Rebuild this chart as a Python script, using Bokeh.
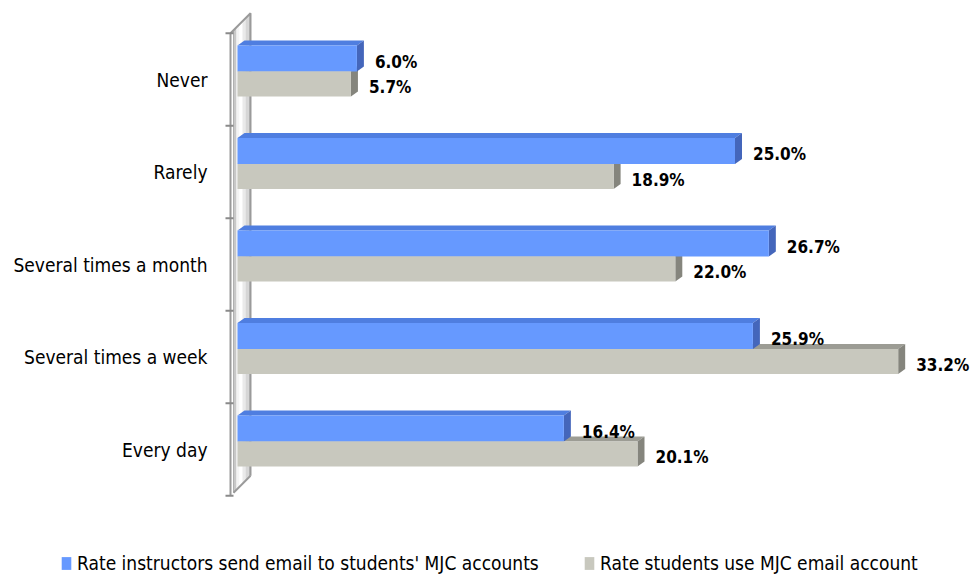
from bokeh.plotting import figure
from bokeh.models import Range1d, Legend, LegendItem, ColumnDataSource
from bokeh.core.properties import value
from bokeh.embed import file_html
from bokeh.resources import INLINE

categories = ["Never", "Rarely", "Several times a month", "Several times a week", "Every day"]
instructors = [6.0, 25.0, 26.7, 25.9, 16.4]
students = [5.7, 18.9, 22.0, 33.2, 20.1]
series_names = ["Rate instructors send email to students' MJC accounts",
                "Rate students use MJC email account"]

FONT = "DejaVu Sans Condensed"
PX_X = 19.9   # pixels per percent
PX_Y = 92.5   # pixels per category
ZERO_X = 237  # pixel column of value 0
W, H = 978, 576

x0 = -ZERO_X / PX_X
p = figure(width=W, height=H, output_backend="svg", toolbar_location=None,
           x_range=Range1d(x0, x0 + W / PX_X),
           y_range=Range1d((H - 79) / PX_Y, -79 / PX_Y),
           min_border_left=0, min_border_right=0, min_border_top=0, min_border_bottom=0)
p.outline_line_color = None
p.grid.visible = False
p.xaxis.visible = False
p.yaxis.visible = False

def ux(px):
    return px / PX_X

def uy(px):
    return px / PX_Y

n = len(categories)
idx = list(range(n))

# back wall (decoration)
wl, wi, wb = ux(-7), ux(-4), ux(13)
wt, wbt = -0.5, n - 0.5
d = uy(20)
strip_edges = [-4, -1, 2, 5, 8, 11, 13]
strip_cols = ["#C8C8C8", "#F4F4F4", "#FFFFFF", "#EAEAEA", "#D6D6D6", "#C4C4C4"]
sx, sy = [], []
for a, b in zip(strip_edges[:-1], strip_edges[1:]):
    fa, fb = (a + 7) / 20.0, (b + 7) / 20.0
    sx.append([ux(a), ux(b), ux(b), ux(a)])
    sy.append([wt - d * fa, wt - d * fb, wbt - d * fb, wbt - d * fa])
p.patches(sx, sy, fill_color=strip_cols, line_color=None)
p.line([wl, wl], [wt, wbt], line_color="#9A9A9A", line_width=2)
p.line([wi, wi], [wt - uy(3), wbt - uy(3)], line_color="#B0B0B0", line_width=1)
p.line([wl, wb, wb], [wt, wt - d, wbt - d], line_color="#9A9A9A", line_width=2)
p.line([wb, wi], [wbt - d, wbt - uy(3)], line_color="#9A9A9A", line_width=2)

# category boundary ticks
bounds = [i - 0.5 for i in range(n + 1)]
p.segment(x0=[ux(-12)] * len(bounds), x1=[ux(-4)] * len(bounds), y0=bounds, y1=bounds,
          line_color="#8A8A8A", line_width=2)

DX, DY = ux(7), -uy(5)

b_top = [i - uy(34) for i in idx]
b_bot = [i - uy(8) for i in idx]
g_top = [i - uy(8) for i in idx]
g_bot = [i + uy(17) for i in idx]

def top_faces(vals, tops):
    xs = [[0, DX, v + DX, v] for v in vals]
    ys = [[t, t + DY, t + DY, t] for t in tops]
    return xs, ys

def side_faces(vals, tops, bots):
    xs = [[v, v + DX, v + DX, v] for v in vals]
    ys = [[t, t + DY, b + DY, b] for t, b in zip(tops, bots)]
    return xs, ys

# gray hidden parts first
gx, gy = top_faces(students, g_top)
p.patches(gx, gy, fill_color="#9C9C94", line_color=None)
gx, gy = side_faces(students, g_top, g_bot)
p.patches(gx, gy, fill_color="#85857D", line_color=None)

# blue bars
bx, by = top_faces(instructors, b_top)
p.patches(bx, by, fill_color="#4F7EE0", line_color=None)
bx, by = side_faces(instructors, b_top, b_bot)
p.patches(bx, by, fill_color="#4466BB", line_color=None)
blue = p.quad(left=[0] * n, right=instructors, top=b_top, bottom=b_bot,
              fill_color="#6699FF", line_color=None)

# gray front
gray = p.quad(left=[0] * n, right=students, top=g_top, bottom=g_bot,
              fill_color="#C8C8BE", line_color=None)

# value labels
src_b = ColumnDataSource(dict(x=instructors, y=[(t + b) / 2 + uy(3) for t, b in zip(b_top, b_bot)],
                              t=[f"{v:.1f}%" for v in instructors]))
src_g = ColumnDataSource(dict(x=students, y=[(t + b) / 2 + uy(3) for t, b in zip(g_top, g_bot)],
                              t=[f"{v:.1f}%" for v in students]))
for src in (src_b, src_g):
    p.text(x="x", y="y", text="t", source=src, x_offset=18, text_baseline="middle",
           text_align="left", text_font=value(FONT), text_font_style="bold",
           text_font_size="17px", text_color="#000000")

# category labels
src_c = ColumnDataSource(dict(x=[0] * n, y=idx, t=categories))
p.text(x="x", y="y", text="t", source=src_c, x_offset=-30, text_baseline="middle",
       text_align="right", text_font=value(FONT), text_font_size="19px", text_color="#000000")

# legends
for rend, name, loc in ((blue, series_names[0], (60, 2)), (gray, series_names[1], (583, 2))):
    lg = Legend(items=[LegendItem(label=name, renderers=[rend])], location=loc,
                orientation="horizontal", padding=0, margin=0, border_line_color=None,
                background_fill_alpha=0, glyph_width=12, glyph_height=16, label_standoff=5,
                label_text_font=FONT, label_text_font_size="19px", label_text_color="#000000")
    p.add_layout(lg, "center")

open("out.html", "w").write(file_html(p, INLINE))
